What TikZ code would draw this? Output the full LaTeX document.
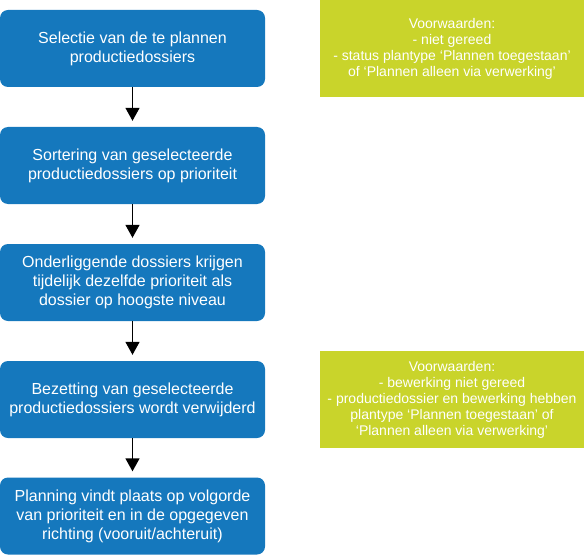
\documentclass[tikz,border=0pt]{standalone}
\usepackage{fontspec}
\setmainfont{Liberation Sans}
\usetikzlibrary{arrows.meta}
\definecolor{boxblue}{HTML}{1578BD}
\definecolor{boxgreen}{HTML}{C9D42B}
\begin{document}
\begin{tikzpicture}[x=1pt,y=-1pt,
  stepbox/.style={fill=boxblue, rounded corners=8pt, minimum width=265pt, minimum height=77pt,
    inner sep=0pt, align=center, text=white, font=\fontsize{16}{19}\selectfont},
  notebox/.style={fill=boxgreen, minimum width=264pt, minimum height=97pt,
    inner sep=0pt, align=center, text=white, font=\fontsize{14}{16}\selectfont},
  flow/.style={line width=1.5pt, -{Triangle[width=14pt,length=13pt]}, shorten >=6pt}]
\useasboundingbox (0,0) rectangle (585,556);
\node[stepbox] (s1) at (132.5,48.5) {Selectie van de te plannen\\productiedossiers};
\node[stepbox] (s2) at (132.5,165.5) {Sortering van geselecteerde\\productiedossiers op prioriteit};
\node[stepbox] (s3) at (132.5,282.5) {Onderliggende dossiers krijgen\\tijdelijk dezelfde prioriteit als\\dossier op hoogste niveau};
\node[stepbox] (s4) at (132.5,399.5) {Bezetting van geselecteerde\\productiedossiers wordt verwijderd};
\node[stepbox] (s5) at (132.5,516) {Planning vindt plaats op volgorde\\van prioriteit en in de opgegeven\\richting (vooruit/achteruit)};
\node[notebox] (n1) at (452,48.5) {Voorwaarden:\\- niet gereed\\- status plantype ‘Plannen toegestaan’\\of ‘Plannen alleen via verwerking’};
\node[notebox] (n2) at (452,399.5) {Voorwaarden:\\- bewerking niet gereed\\- productiedossier en bewerking hebben\\plantype ‘Plannen toegestaan’ of\\‘Plannen alleen via verwerking’};
\draw[flow] (s1) -- (s2);
\draw[flow] (s2) -- (s3);
\draw[flow] (s3) -- (s4);
\draw[flow] (s4) -- (s5);
\end{tikzpicture}
\end{document}
